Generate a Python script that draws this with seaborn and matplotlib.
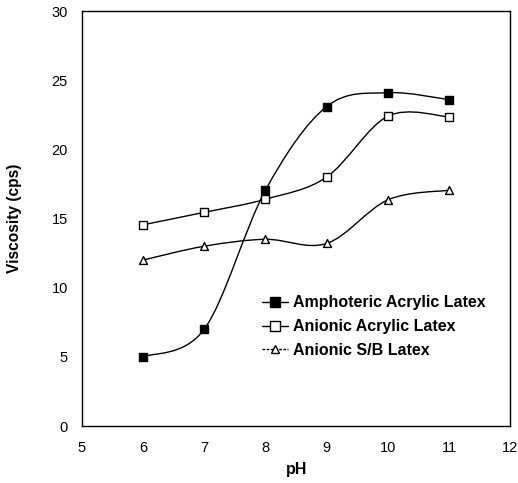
import numpy as np
import pandas as pd
import seaborn as sns
import matplotlib
matplotlib.use("Agg")
import matplotlib.pyplot as plt
from matplotlib.path import Path
from matplotlib.patches import PathPatch
from matplotlib.lines import Line2D

ph = [6, 7, 8, 9, 10, 11]
amphoteric = [5.0, 7.0, 17.05, 23.1, 24.1, 23.6]
anionic_acrylic = [14.55, 15.45, 16.4, 18.0, 22.4, 22.35]
anionic_sb = [12.0, 13.0, 13.5, 13.2, 16.35, 17.05]
series_names = ["Amphoteric Acrylic Latex", "Anionic Acrylic Latex", "Anionic S/B Latex"]
x_ticks = [5, 6, 7, 8, 9, 10, 11, 12]
y_ticks = [0, 5, 10, 15, 20, 25, 30]

sns.set_style("white")
plt.rcParams['font.family'] = ['Liberation Sans', 'DejaVu Sans']
plt.rcParams['text.color'] = 'black'
plt.rcParams['axes.labelcolor'] = 'black'
plt.rcParams['xtick.color'] = 'black'
plt.rcParams['ytick.color'] = 'black'

fig = plt.figure(figsize=(5.18, 4.83), dpi=100)
ax = fig.add_axes([0.158, 0.118, 0.827, 0.859])

df = pd.DataFrame({
    "pH": ph * 3,
    "Viscosity": amphoteric + anionic_acrylic + anionic_sb,
    "Series": sum([[n] * len(ph) for n in series_names], []),
})


def smooth_path(xs, ys):
    pts = np.column_stack([xs, ys]).astype(float)
    n = len(pts)
    verts = [pts[0]]
    codes = [Path.MOVETO]
    for i in range(n - 1):
        p0 = pts[max(i - 1, 0)]
        p1 = pts[i]
        p2 = pts[i + 1]
        p3 = pts[min(i + 2, n - 1)]
        c1 = p1 + (p2 - p0) / 6.0
        c2 = p2 - (p3 - p1) / 6.0
        verts += [c1, c2, p2]
        codes += [Path.CURVE4] * 3
    return Path(verts, codes)


for vals in [amphoteric, anionic_acrylic, anionic_sb]:
    patch = PathPatch(smooth_path(ph, vals), facecolor="none", edgecolor="black",
                      lw=1.0, transform=ax.transData, zorder=2)
    ax.add_patch(patch)

marker_specs = {
    series_names[0]: dict(marker="s", s=40, facecolor="black", edgecolor="black"),
    series_names[1]: dict(marker="s", s=40, facecolor="white", edgecolor="black"),
    series_names[2]: dict(marker="^", s=32, facecolor="white", edgecolor="black"),
}
for name in series_names:
    sub = df[df["Series"] == name]
    spec = marker_specs[name]
    sns.scatterplot(data=sub, x="pH", y="Viscosity", ax=ax, marker=spec["marker"],
                    s=spec["s"], color=spec["facecolor"], edgecolor=spec["edgecolor"],
                    linewidth=1.0, zorder=3, legend=False)

ax.set_xlim(5, 12)
ax.set_ylim(0, 30)
ax.set_xticks(x_ticks)
ax.set_yticks(y_ticks)
ax.tick_params(axis="x", length=0, labelsize=10.5, pad=11)
ax.tick_params(axis="y", length=0, labelsize=10.5, pad=10)
for sp in ax.spines.values():
    sp.set_color("black")
    sp.set_linewidth(1.0)
ax.set_xlabel("pH", fontsize=11.5, fontweight="bold")
ax.set_ylabel("Viscosity (cps)", fontsize=11.2, fontweight="bold")
ax.xaxis.set_label_coords((297 - 82) / 428, (426 - 470) / 415)
ax.yaxis.set_label_coords((15 - 82) / 428, 0.5)
ax.xaxis.label.set_va("center")
ax.yaxis.label.set_va("center")

handles = [
    Line2D([], [], color="black", lw=1.0, marker="s", markersize=6.5,
           markerfacecolor="black", markeredgecolor="black"),
    Line2D([], [], color="black", lw=1.0, marker="s", markersize=6.5,
           markerfacecolor="white", markeredgecolor="black"),
    Line2D([], [], color="black", lw=1.0, ls=(0, (2, 1)), marker="^", markersize=5.5,
           markerfacecolor="white", markeredgecolor="black"),
]
leg = ax.legend(handles, series_names, loc="upper left", bbox_to_anchor=(0.42, 0.315),
                frameon=False, prop={"weight": "bold", "size": 11.5},
                handlelength=1.65, handletextpad=0.3, labelspacing=0.55, borderaxespad=0,
                borderpad=0)

fig.savefig("out.png", dpi=100)
